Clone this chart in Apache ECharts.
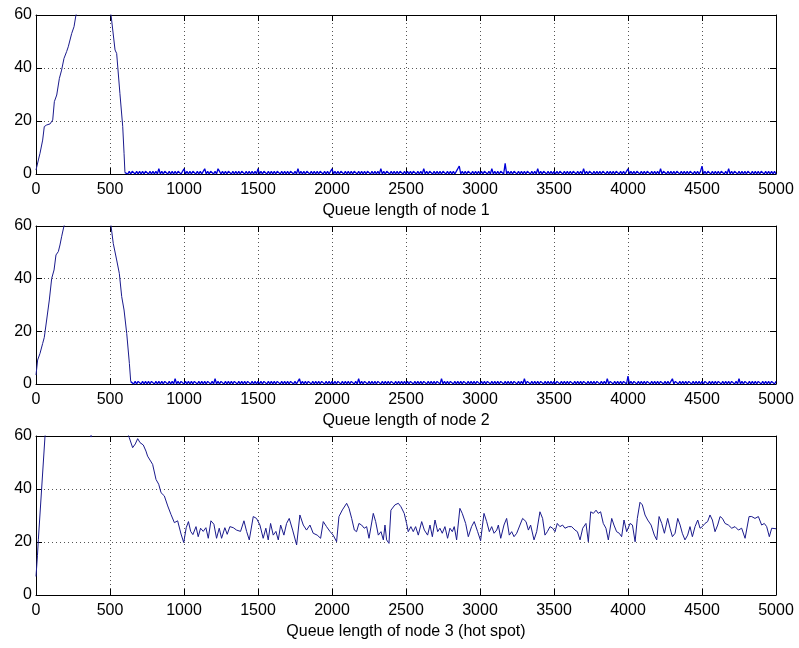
<!DOCTYPE html>
<html><head><meta charset="utf-8">
<script src="https://cdn.jsdelivr.net/npm/echarts/dist/echarts.min.js"></script>
<style>html,body{margin:0;padding:0;background:#fff}#c{width:799px;height:648px}</style>
</head><body><div id="c"></div>
<script>
// ---- data ----
const titles = ['Queue length of node 1', 'Queue length of node 2', 'Queue length of node 3 (hot spot)'];

const node1RiseT = [0,16,27,45,56,72,95,113,124,140,158,173,189,207,218,230,241,257,270,300,350,400,450,500,507,534,545,567,586,595,601];
const node1RiseQ = [1.5,5.3,7.8,12.8,17.9,18.5,18.9,20.4,27.3,29.8,36.1,39.2,43.6,46.2,48,48,53,55.6,60,64,69,72,68,61,60,46.8,45.5,30.4,17.9,7.8,0.5];
const node1TailStart = 610;
const tailStep = 10;
const node1TailQ = [
 1,0,1,0,1,1,0,1,0,1,0,1,0,1,1,0,1,0,1,0,1,0,2,0,1,0,1,1,0,1,0,1,0,1,0,1,1,0,1,
 2,0,1,0,1,0,1,1,0,1,0,1,0,1,2,0,1,0,1,1,0,1,0,2,1,0,1,0,1,0,1,1,0,1,0,1,0,1,0,1,1,0,1,0,1,0,1,0,1,0,
 2,0,1,0,1,1,0,1,0,1,0,1,0,1,1,0,1,0,1,0,1,0,1,1,0,1,0,2,0,1,0,1,0,1,1,0,1,0,1,0,1,0,1,1,0,1,0,1,0,1,
 2,0,1,0,1,0,1,1,0,1,0,1,0,1,0,1,1,0,1,0,1,0,1,0,1,1,0,1,0,1,0,1,0,2,0,1,0,1,1,0,1,0,1,0,1,0,1,1,0,1,
 0,1,0,1,0,1,1,0,1,0,1,0,2,0,1,0,1,1,0,1,0,1,0,1,0,1,1,0,1,0,1,0,1,0,1,1,3,0,1,0,1,0,1,1,0,1,0,1,0,1,
 0,1,0,1,1,0,1,0,2,0,1,0,1,0,1,1,0,4,0,1,0,1,0,1,1,0,1,0,1,0,1,0,1,1,0,1,0,1,0,2,0,1,0,1,1,0,1,0,1,0,
 1,0,1,0,1,1,0,1,0,1,0,1,0,1,1,0,1,0,1,0,2,0,1,0,1,1,0,1,0,1,0,1,0,1,1,0,1,0,1,0,1,0,1,1,0,1,0,1,0,1,
 2,0,1,0,1,0,1,1,0,1,0,1,0,1,1,0,1,0,1,0,1,0,2,0,1,1,0,1,0,1,0,1,0,1,1,0,1,0,1,0,1,0,1,1,0,1,0,1,0,1,
 3,0,1,0,1,1,0,1,0,1,0,1,0,1,1,0,1,0,2,0,1,0,1,1,0,1,0,1,0,1,0,1,1,0,1,0,1,0,1,0,1,1,0,1,0,1,0,1,0,1,0
];

const node2RiseT = [0,11,27,45,56,72,90,106,122,135,151,162,173,189,250,350,450,500,507,522,545,563,579,595,613,631,640];
const node2RiseQ = [3.4,9.1,11.6,15.4,17.7,24.3,31.9,40.1,43.3,49,50.3,52.8,55.9,60,68,75,70,62,60,53.4,47.1,42,33.2,28.1,19.2,7.8,0.9];
const node2TailStart = 650;
const node2TailQ = [
 1,0,1,0,1,1,0,1,0,1,0,1,0,1,1,0,1,0,1,0,1,0,1,1,0,1,0,1,0,2,0,1,0,1,1,
 0,1,0,1,0,1,0,1,1,0,1,0,1,0,1,0,1,1,0,1,0,2,0,1,0,1,1,0,1,0,1,0,1,0,1,1,0,1,0,1,0,1,0,1,1,0,1,0,1,0,
 1,0,1,0,1,1,0,1,0,1,0,1,0,1,1,0,1,0,1,0,1,0,1,1,0,1,0,1,2,0,1,0,1,0,1,1,0,1,0,1,0,1,0,1,1,0,1,0,1,0,
 1,0,1,0,1,1,0,1,0,1,0,1,0,1,1,0,1,0,2,0,1,0,1,1,0,1,0,1,0,1,0,1,1,0,1,0,1,0,1,0,1,1,0,1,0,1,0,1,0,1,
 0,1,0,1,1,0,1,0,1,0,1,0,1,1,0,1,0,1,0,1,0,1,1,0,2,0,1,0,1,0,1,1,0,1,0,1,0,1,0,1,1,0,1,0,1,0,1,0,1,1,
 0,1,0,1,0,1,1,0,1,0,1,0,1,0,1,1,0,1,0,1,0,1,0,1,1,0,1,0,1,0,2,0,1,1,0,1,0,1,0,1,0,1,1,0,1,0,1,0,1,0,
 1,0,1,1,0,1,0,1,0,1,0,1,1,0,1,0,1,0,1,0,1,1,0,1,0,1,0,1,0,1,1,0,1,0,1,0,2,0,1,1,0,1,0,1,0,1,0,1,1,0,
 3,0,1,0,1,1,0,1,0,1,0,1,0,1,1,0,1,0,1,0,1,0,1,1,0,1,0,1,0,1,2,0,1,1,0,1,0,1,0,1,0,1,1,0,1,0,1,0,1,0,
 1,0,1,1,0,1,0,1,0,1,0,1,1,0,1,0,1,0,1,0,1,1,0,1,0,2,0,1,0,1,1,0,1,0,1,0,1,0,1,1,0,1,0,1,0,1,0,1,1,0,1
];

const node3T = [0,10,16,38,61,100,200,300,360,372,385,500,600,630,653,671,687,703,725,743,754,765,788,811,829,845,867,890,912,935,957,980,998,
 1015,1030,1045,1060,1081,1096,1112,1130,1148,1164,1182,1202,1220,1238,1254,1276,1292,1310,1333,1355,1382,1405,1423,1441,1468,1490,
 1513,1535,1553,1569,1585,1603,1621,1637,1653,1675,1693,1711,1734,1761,1783,1806,1828,1851,1873,1900,1923,1941,1963,1986,2008,
 2031,2047,2070,2099,2115,2133,2151,2166,2182,2200,2218,2234,2250,2279,2295,2313,2331,2347,2358,2369,2385,2398,2425,2448,2466,2488,
 2504,2515,2533,2549,2565,2583,2606,2624,2646,2662,2678,2696,2714,2729,2745,2763,2781,2797,2813,2826,2842,2864,2880,2903,2921,2943,2961,2984,
 3004,3027,3045,3063,3079,3095,3113,3124,3140,3162,3180,3198,3214,3230,3248,3270,3288,3311,3327,3342,3365,3383,3405,3423,3439,3455,3473,3491,
 3507,3522,3540,3558,3574,3597,3619,3642,3658,3676,3694,3716,3732,3748,3766,3784,3799,3815,3833,3851,3867,3890,3905,3923,3941,3957,3973,3991,
 4014,4030,4048,4063,4081,4097,4115,4133,4156,4178,4194,4210,4228,4246,4268,4284,4300,4318,4336,4352,4367,4385,4403,4419,4435,4453,4471,4487,
 4502,4520,4538,4554,4570,4588,4606,4622,4638,4656,4678,4701,4723,4746,4768,4791,4818,4836,4858,4881,4903,4921,4937,4955,4971,4982,5000];
const node3Q = [7,15,21,40,60,72,80,74,62,59.6,62,70,64,59.4,55.6,57,59,57.5,56.6,54.3,52.4,53,49.3,43.6,41.8,38.6,37.4,33.6,30.4,27.3,28,23,19.8,
 25.4,27.7,24,22.8,25.8,22,25.2,24,25.4,21.4,28,26.7,21.4,25.2,21.4,25.4,22.9,25.8,25.4,24.5,24,28,24,20.8,29.6,28.9,
 26.4,21.4,25.2,20.8,27,22.6,24,20.8,26.4,22.6,27,28.9,24.5,18.9,30.2,26.4,24.5,26.4,23.3,22.6,21.4,27.7,25.8,24,22.6,
 20.1,29.6,32.1,34.6,32.7,28.9,24.5,23.9,27,26.4,25.2,25.8,21.4,30.8,27.7,22.6,23.9,20.8,26.4,20.8,19.5,32,34,34.6,33.3,30.8,
 27,23.9,25.8,23.9,25.8,22.6,27.7,24.5,22.6,26.4,22,28.3,23.9,25.2,23.3,25.8,21.4,25.2,23.9,25.8,20.8,32.7,30.8,27,22,25.8,27.7,23.9,
 20.5,30.8,27.7,23.9,25.8,23.3,24.5,26.4,21.4,26.4,28.9,22.6,23.9,22,23.3,26.4,28.9,27.7,24.5,26.4,20.8,23.9,31.4,28.9,22.6,23.9,25.8,25.2,
 23.9,27,25.8,26.4,25.2,25.8,25.8,24.5,23.9,20.8,25.2,27,20.1,31.4,30.8,32,30.8,31.4,27,25.2,20.8,28.9,26.4,23.9,23.3,22,28.3,23.9,
 27,26.4,20.1,28.9,35,34,30.2,28.3,26.4,22.6,20.8,29.6,27,23.3,28.9,25.2,22,23.3,28.9,26.4,23.3,20.8,22.6,25.8,22,25.8,28.3,25.2,
 25.8,27,27.7,30.2,28.3,23.9,26.4,29.6,28.9,27,26.4,25.2,25.8,24.5,25.2,21.4,29.6,29.6,28.9,29.6,26.4,27,25.8,22,25.2,25.8,25];

// ---- build ----
function pairs(ts, qs) { return ts.map((t, i) => [t, qs[i]]); }
function tail(start, qs) { return qs.map((q, i) => [start + i * tailStep, q]); }
const n1Rise = pairs(node1RiseT, node1RiseQ);
const n2Rise = pairs(node2RiseT, node2RiseQ);
// tail segments start from the last rise point so the line stays continuous
const n1Tail = [n1Rise[n1Rise.length - 1]].concat(tail(node1TailStart, node1TailQ));
const n2Tail = [n2Rise[n2Rise.length - 1]].concat(tail(node2TailStart, node2TailQ));
const n3 = pairs(node3T, node3Q);

const font = 'Liberation Sans, Arial, sans-serif';
const grids = [
  {left: 36, top: 15, width: 740, height: 159},
  {left: 36, top: 226, width: 740, height: 158},
  {left: 36, top: 436, width: 740, height: 159}
];
const axisLine = {show: true, onZero: false, lineStyle: {color: '#000', width: 1}};
const tick = {show: true, inside: true, length: 6, lineStyle: {color: '#000', width: 1}};
const grid = {show: true, lineStyle: {color: '#555', width: 1, type: [1, 3]}};
const plain = v => String(v);

const xAxis = [], yAxis = [];
for (let i = 0; i < 3; i++) {
  xAxis.push({type: 'value', gridIndex: i, min: 0, max: 5000, interval: 500, position: 'bottom',
    axisLine, axisTick: tick, splitLine: grid,
    axisLabel: {color: '#000', fontSize: 16, fontFamily: font, margin: 8, formatter: plain, showMinLabel: true, showMaxLabel: true},
    name: titles[i], nameLocation: 'middle', nameGap: 29,
    nameTextStyle: {color: '#000', fontSize: 16, fontFamily: font}});
  yAxis.push({type: 'value', gridIndex: i, min: 0, max: 60, interval: 20, position: 'left',
    axisLine, axisTick: tick, splitLine: grid,
    axisLabel: {color: '#000', fontSize: 16, fontFamily: font, margin: 4, formatter: plain, showMinLabel: true, showMaxLabel: true}});
}
for (let i = 0; i < 3; i++) {
  xAxis.push({type: 'value', gridIndex: i, min: 0, max: 5000, interval: 500, position: 'top',
    axisLine, axisTick: tick, splitLine: {show: false}, axisLabel: {show: false}});
  yAxis.push({type: 'value', gridIndex: i, min: 0, max: 60, interval: 20, position: 'right',
    axisLine, axisTick: tick, splitLine: {show: false}, axisLabel: {show: false}});
}
const navy = '#1a1a8c', blue = '#0000d8';
function line(idx, data, color, width) {
  return {type: 'line', xAxisIndex: idx, yAxisIndex: idx, data,
    showSymbol: false, symbol: 'none', clip: true, lineStyle: {color, width}};
}
const series = [
  line(0, n1Rise, navy, 1), line(0, n1Tail, blue, 1.3),
  line(1, n2Rise, navy, 1), line(1, n2Tail, blue, 1.3),
  line(2, n3, navy, 1)
];

const chart = echarts.init(document.getElementById('c'), null, {renderer: 'canvas'});
chart.setOption({
  animation: false,
  backgroundColor: '#fff',
  grid: grids,
  xAxis, yAxis, series
});
</script></body></html>
